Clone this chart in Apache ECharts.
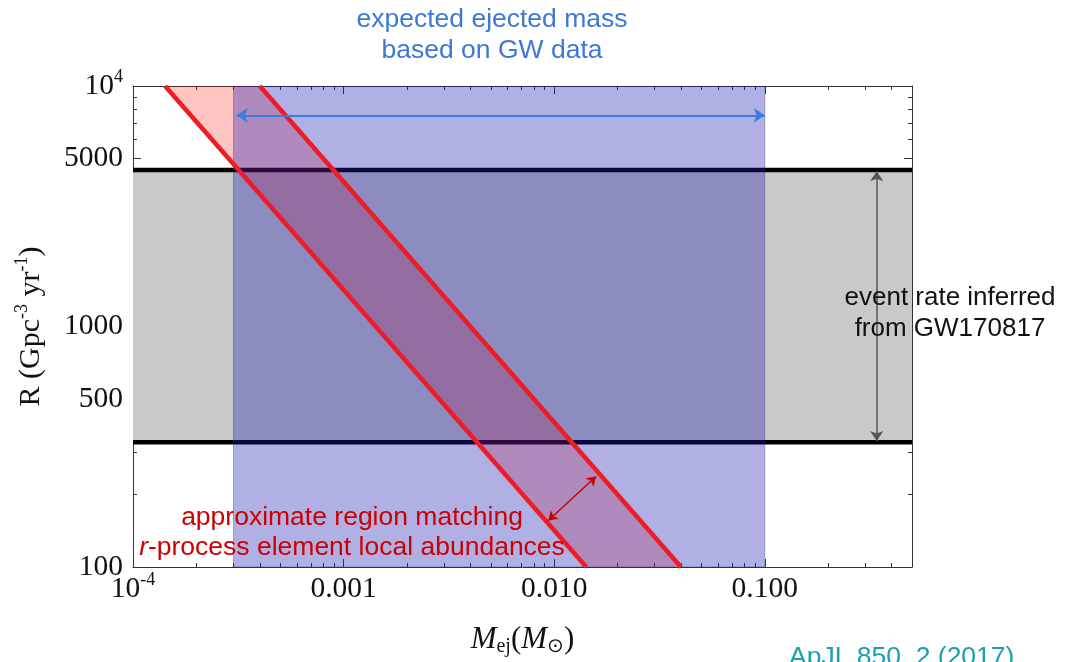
<!DOCTYPE html>
<html><head><meta charset="utf-8">
<script src="https://cdn.jsdelivr.net/npm/echarts@6/dist/echarts.min.js"></script>
<style>html,body{margin:0;padding:0;background:#fff}#c{width:1065px;height:662px}</style>
</head><body><div id="c"></div>
<script>
// ---- axes ----
const xMin = 1e-4, xMax = 0.5;
const yMin = 100, yMax = 10000;
const xTickValues = [1e-4, 1e-3, 1e-2, 1e-1];
const xTickLabels = ['10^-4', '0.001', '0.010', '0.100'];
const yTickValues = [100, 500, 1000, 5000, 10000];
const yTickLabels = ['100', '500', '1000', '5000', '10^4'];
const xMinorTicks = [2e-4,3e-4,4e-4,5e-4,6e-4,7e-4,8e-4,9e-4,
  2e-3,3e-3,4e-3,5e-3,6e-3,7e-3,8e-3,9e-3,
  0.02,0.03,0.04,0.05,0.06,0.07,0.08,0.09,
  0.2,0.3,0.4];
const yMinorTicks = [200,300,400,600,700,800,900,2000,3000,4000,6000,7000,8000,9000];
// ---- data ----
const massRange = [3e-4, 0.1];          // expected ejected mass from GW data
const rateRange = [330, 4470];          // event rate inferred from GW170817
const rprocLow  = [[1.42e-4, 10000], [0.0142, 100]];  // r-process band, lower edge
const rprocHigh = [[4.0e-4, 10000], [0.040, 100]];    // r-process band, upper edge
const massArrow = [[3.11e-4, 7550], [0.1, 7550]];
const rateArrow = [[0.34, 4420], [0.34, 334]];
const bandArrow = [[0.00938, 156], [0.0158, 238]];

const SERIF = '"Liberation Serif","Times New Roman",serif';
const SANS = '"Liberation Sans",Arial,sans-serif';

function supFmt(s) {
  const m = String(s).match(/^10\^(.*)$/);
  return m ? '{a|10}{s|' + m[1] + '}' : '{a|' + s + '}';
}
const tickRich = {
  a: {fontFamily: SERIF, fontSize: 29.5, lineHeight: 36, color: '#111'},
  s: {fontFamily: SERIF, fontSize: 18, lineHeight: 18, verticalAlign: 'top', color: '#111'}
};
function labelFor(values, labels) {
  return function (v) {
    for (let i = 0; i < values.length; i++) {
      if (Math.abs(Math.log10(v) - Math.log10(values[i])) < 1e-6) return supFmt(labels[i]);
    }
    return '';
  };
}

const base = {
  type: 'log', logBase: 10,
  splitLine: {show: false}, minorTick: {show: false}, minorSplitLine: {show: false},
  axisLine: {show: true, lineStyle: {color: '#333', width: 1}}
};
function xAx(pos, major, extra) {
  return Object.assign({}, base, {
    min: xMin, max: xMax, position: pos,
    axisLine: {show: major, lineStyle: {color: '#333', width: 1}},
    axisTick: {show: true, inside: true, length: major ? 8 : 4, customValues: major ? xTickValues : xMinorTicks, lineStyle: {color: '#333', width: 1}},
    axisLabel: {show: false}
  }, extra || {});
}
function yAx(pos, major, extra) {
  return Object.assign({}, base, {
    min: yMin, max: yMax, position: pos,
    axisLine: {show: major, lineStyle: {color: '#333', width: 1}},
    axisTick: {show: true, inside: true, length: major ? 8 : 4, customValues: major ? yTickValues : yMinorTicks, lineStyle: {color: '#333', width: 1}},
    axisLabel: {show: false}
  }, extra || {});
}

const chart = echarts.init(document.getElementById('c'), null, {renderer: 'canvas'});
const option = {
  animation: false,
  backgroundColor: '#fff',
  grid: {left: 133, right: 153, top: 86, bottom: 94, containLabel: false},
  xAxis: [
    xAx('bottom', true, {
      axisLabel: {show: true, customValues: xTickValues, formatter: labelFor(xTickValues, xTickLabels), rich: tickRich, margin: 4},
      name: '{i|M}{sub|ej}{n|(}{i|M}{sub|\u2299}{n|)}',
      nameLocation: 'middle', nameGap: 56,
      nameTextStyle: {rich: {
        i: {fontFamily: SERIF, fontSize: 31, fontStyle: 'italic', lineHeight: 34, color: '#111'},
        n: {fontFamily: SERIF, fontSize: 31, lineHeight: 34, color: '#111'},
        sub: {fontFamily: SERIF, fontSize: 20, lineHeight: 20, verticalAlign: 'bottom', color: '#111'}
      }}
    }),
    xAx('bottom', false),
    xAx('top', true),
    xAx('top', false)
  ],
  yAxis: [
    yAx('left', true, {
      axisLabel: {show: true, customValues: yTickValues, formatter: labelFor(yTickValues, yTickLabels), rich: tickRich, margin: 10},
      name: 'R (Gpc{s|-3} yr{s|-1})',
      nameLocation: 'middle', nameGap: 84, nameRotate: 90,
      nameTextStyle: {fontFamily: SERIF, fontSize: 30, color: '#111', lineHeight: 36,
        rich: {s: {fontFamily: SERIF, fontSize: 18, lineHeight: 18, verticalAlign: 'top', color: '#111'}}}
    }),
    yAx('left', false),
    yAx('right', true),
    yAx('right', false)
  ],
  series: [
    { // event rate band
      type: 'custom', z: 1, silent: true, clip: true,
      data: [[xMin, rateRange[0], xMax, rateRange[1]]],
      renderItem: function (params, api) {
        const p0 = api.coord([api.value(0), api.value(1)]);
        const p1 = api.coord([api.value(2), api.value(3)]);
        return {type: 'rect', shape: {x: p0[0], y: p1[1], width: p1[0] - p0[0], height: p0[1] - p1[1]}, style: {fill: '#c9c9c9'}};
      }
    },
    {type: 'line', z: 2, silent: true, symbol: 'none', data: [[xMin, rateRange[0]], [xMax, rateRange[0]]], lineStyle: {color: '#000', width: 4.5}},
    {type: 'line', z: 2, silent: true, symbol: 'none', data: [[xMin, rateRange[1]], [xMax, rateRange[1]]], lineStyle: {color: '#000', width: 4.5}},
    { // r-process band fill
      type: 'custom', z: 3, silent: true, clip: true,
      data: [rprocLow[0]],
      renderItem: function (params, api) {
        const pts = [rprocLow[0], rprocHigh[0], rprocHigh[1], rprocLow[1]].map(function (p) { return api.coord(p); });
        return {type: 'polygon', shape: {points: pts}, style: {fill: 'rgba(255,0,0,0.23)'}};
      }
    },
    { // ejected mass band
      type: 'custom', z: 4, silent: true, clip: true,
      data: [[massRange[0], yMin, massRange[1], yMax]],
      renderItem: function (params, api) {
        const p0 = api.coord([api.value(0), api.value(1)]);
        const p1 = api.coord([api.value(2), api.value(3)]);
        return {type: 'rect', shape: {x: p0[0], y: p1[1], width: p1[0] - p0[0], height: p0[1] - p1[1]},
          style: {fill: 'rgba(26,26,177,0.345)', stroke: 'rgba(40,40,150,0.35)', lineWidth: 1}};
      }
    },
    {type: 'line', z: 5, silent: true, symbol: 'none', data: rprocLow, lineStyle: {color: '#ee1c24', width: 4.5}},
    {type: 'line', z: 5, silent: true, symbol: 'none', data: rprocHigh, lineStyle: {color: '#ee1c24', width: 4.5}},
    {type: 'lines', coordinateSystem: 'cartesian2d', z: 6, silent: true,
      symbol: ['arrow', 'arrow'], symbolSize: 11,
      data: [{coords: massArrow}], lineStyle: {color: '#3a7de0', width: 2, opacity: 1}},
    {type: 'lines', coordinateSystem: 'cartesian2d', z: 6, silent: true,
      symbol: ['arrow', 'arrow'], symbolSize: 10,
      data: [{coords: rateArrow}], lineStyle: {color: '#555', width: 1.5, opacity: 1}},
    {type: 'lines', coordinateSystem: 'cartesian2d', z: 6, silent: true,
      symbol: ['arrow', 'arrow'], symbolSize: 9,
      data: [{coords: bandArrow}], lineStyle: {color: '#cc0000', width: 1.5, opacity: 1}}
  ],
  graphic: [
    {type: 'text', x: 492, y: 20, z: 100, style: {text: 'expected ejected mass', fontFamily: SANS, fontSize: 26.5, fill: '#3c78d8', textAlign: 'center', align: 'center', textVerticalAlign: 'middle', verticalAlign: 'middle'}},
    {type: 'text', x: 492, y: 51, z: 100, style: {text: 'based on GW data', fontFamily: SANS, fontSize: 26.5, fill: '#3c78d8', textAlign: 'center', align: 'center', textVerticalAlign: 'middle', verticalAlign: 'middle'}},
    {type: 'text', x: 950, y: 298, z: 100, style: {text: 'event rate inferred', fontFamily: SANS, fontSize: 26, fill: '#111', textAlign: 'center', align: 'center', textVerticalAlign: 'middle', verticalAlign: 'middle'}},
    {type: 'text', x: 950, y: 329, z: 100, style: {text: 'from GW170817', fontFamily: SANS, fontSize: 26, fill: '#111', textAlign: 'center', align: 'center', textVerticalAlign: 'middle', verticalAlign: 'middle'}},
    {type: 'text', x: 352, y: 518, z: 100, style: {text: 'approximate region matching', fontFamily: SANS, fontSize: 26.5, fill: '#cc0000', textAlign: 'center', align: 'center', textVerticalAlign: 'middle', verticalAlign: 'middle'}},
    {type: 'text', x: 352, y: 548, z: 100, style: {text: '{it|r}{n|-process element local abundances}', fontFamily: SANS, fontSize: 26.5, fill: '#cc0000', textAlign: 'center', align: 'center', textVerticalAlign: 'middle', verticalAlign: 'middle',
      rich: {it: {fontFamily: SANS, fontSize: 26.5, fontStyle: 'italic', fill: '#cc0000'}, n: {fontFamily: SANS, fontSize: 26.5, fill: '#cc0000'}}}},
    {type: 'text', x: 789, y: 644, z: 100, style: {text: 'ApJL 850, 2 (2017)', fontFamily: SANS, fontSize: 26.5, fill: '#1a9fb0', textAlign: 'left', align: 'left', textVerticalAlign: 'top', verticalAlign: 'top'}}
  ]
};
chart.setOption(option);
</script>
</body></html>
